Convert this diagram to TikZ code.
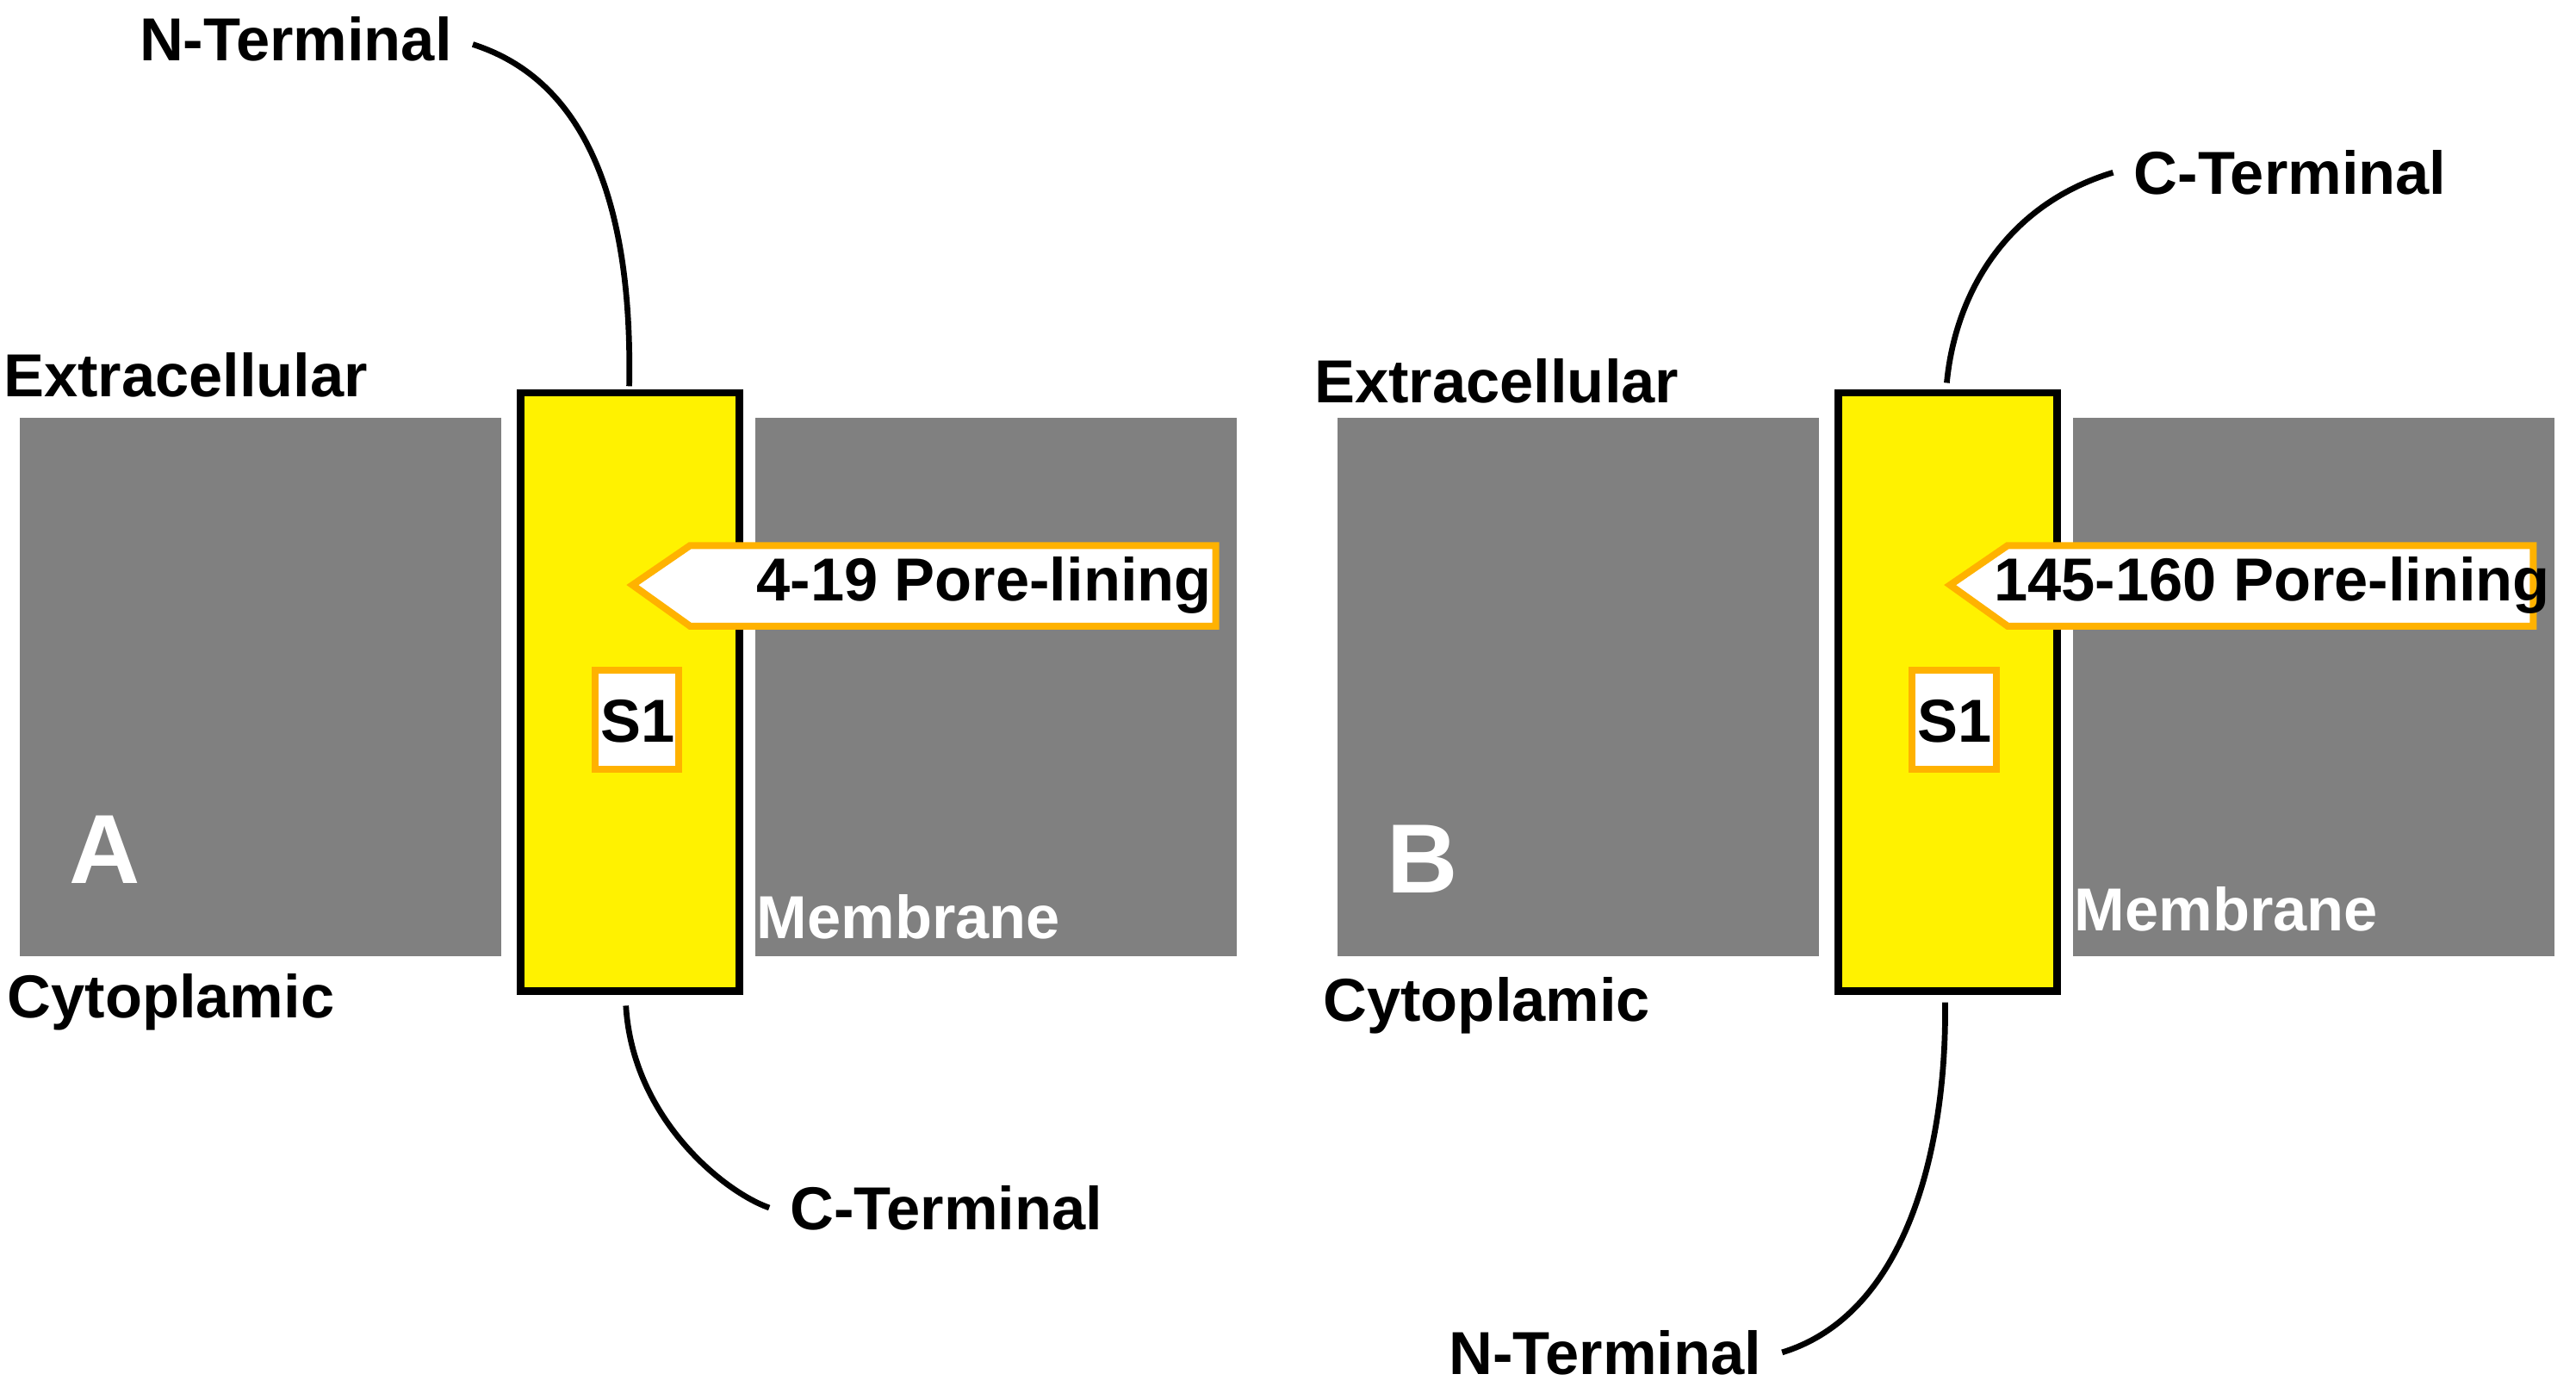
\documentclass[tikz,border=0pt]{standalone}
\usepackage{fontspec}
\setmainfont{Liberation Sans}
\begin{document}
\begin{tikzpicture}[x=0.01cm,y=-0.01cm,
  lbl/.style={font=\bfseries\fontsize{10.5}{12}\selectfont,inner sep=0pt},
  wlbl/.style={lbl,text=white},
  gbox/.style={fill=black!50},
  yel/.style={fill=yellow,draw=black,line width=1.3pt},
  tag/.style={fill=white,draw=orange!60!yellow,line width=1.2pt},
  conn/.style={line width=1pt}]
\useasboundingbox (0,0) rectangle (1568,851);
\foreach \o/\lab/\ly in {0/A/517,802/B/523}{
  \begin{scope}[xshift=\o*0.01cm]
  \fill[gbox] (12,254) rectangle (305,582);
  \fill[gbox] (460,254) rectangle (753,582);
  \draw[yel] (317,239) rectangle (450,603);
  \draw[tag] (362,408) rectangle (413,468);
  \node[lbl] at (388,439) {S1};
  \node[text=white,font=\bfseries\fontsize{17}{20}\selectfont,inner sep=0pt] at (64,\ly) {\lab};
  \end{scope}}
\draw[tag] (385,356) -- (420,332) -- (740,332) -- (740,381) -- (420,381) -- cycle;
\node[lbl] at (599,356) {4-19 Pore-lining};
\draw[tag] (1187,356) -- (1222,332) -- (1542,332) -- (1542,381) -- (1222,381) -- cycle;
\node[lbl] at (1383,356) {145-160 Pore-lining};
\node[wlbl] at (553,558) {Membrane};
\node[wlbl] at (1355,553) {Membrane};
\node[lbl] at (113,228) {Extracellular};
\node[lbl] at (104,610) {Cytoplamic};
\node[lbl] at (911,232) {Extracellular};
\node[lbl] at (905,612) {Cytoplamic};
\node[lbl] (nA) at (180,24) {N-Terminal};
\node[lbl] (cA) at (576,735) {C-Terminal};
\node[lbl] (cB) at (1394,105) {C-Terminal};
\node[lbl] (nB) at (977,823) {N-Terminal};
\coordinate (a1) at (383,235);
\coordinate (a2) at (381,612);
\coordinate (b1) at (1185,233);
\coordinate (b2) at (1184,610);
\draw[conn] ([xshift=0.12cm,yshift=-0.03cm]nA.east) .. controls (360,50) and (385,130) .. (a1);
\draw[conn] (a2) .. controls (385,680) and (440,725) .. ([xshift=-0.12cm]cA.west);
\draw[conn] ([xshift=-0.12cm]cB.west) .. controls (1220,125) and (1190,180) .. (b1);
\draw[conn] ([xshift=0.12cm]nB.east) .. controls (1160,800) and (1185,700) .. (b2);
\end{tikzpicture}
\end{document}
